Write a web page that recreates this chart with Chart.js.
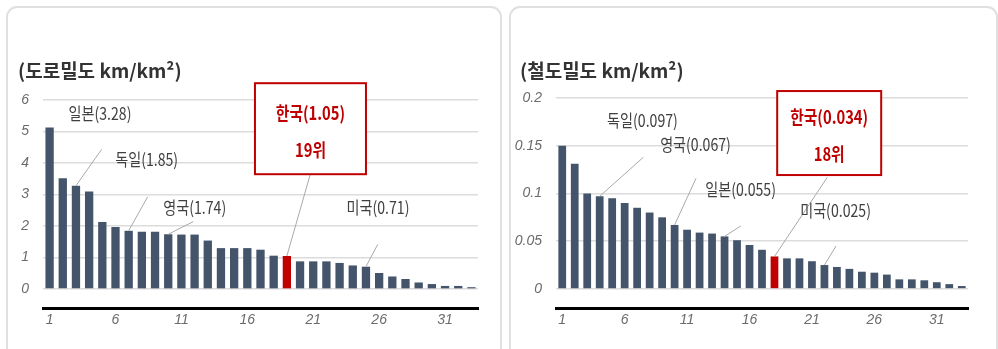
<!DOCTYPE html>
<html>
<head>
<meta charset="utf-8">
<script src="https://cdn.jsdelivr.net/npm/chart.js@4.4.1/dist/chart.umd.min.js"></script>
<style>
  html, body { margin: 0; padding: 0; background: #fff; }
  body { width: 998px; height: 349px; position: relative; overflow: hidden; }
  .panel { position: absolute; top: 6px; height: 380px; border: 2px solid #e0e0e0; border-radius: 11px; box-sizing: border-box; background: #fff; }
  #roadPanel { left: 6px; width: 496px; }
  #railPanel { left: 509px; width: 489px; }
  canvas { position: absolute; top: 0; }
  #roadChart { left: 0; }
  #railChart { left: 500px; }
</style>
</head>
<body>
<div class="panel" id="roadPanel"></div>
<div class="panel" id="railPanel"></div>
<canvas id="roadChart" width="500" height="349"></canvas>
<canvas id="railChart" width="498" height="349"></canvas>
<script>
// Rank positions 1..33 (OECD countries ordered by density)
const categories = ['1','2','3','4','5','6','7','8','9','10','11','12','13','14','15','16','17',
  '18','19','20','21','22','23','24','25','26','27','28','29','30','31','32','33'];

// Road density, km of road per km² of land
const roadDensity = [5.13, 3.52, 3.28, 3.10, 2.13, 1.97, 1.85, 1.82, 1.82, 1.74, 1.73, 1.73, 1.54,
  1.30, 1.30, 1.30, 1.25, 1.06, 1.05, 0.88, 0.88, 0.88, 0.83, 0.75, 0.71, 0.51, 0.40, 0.32,
  0.21, 0.16, 0.10, 0.10, 0.06];

// Rail density, km of track per km² of land
const railDensity = [0.150, 0.131, 0.100, 0.097, 0.095, 0.090, 0.085, 0.080, 0.075, 0.067, 0.062,
  0.059, 0.058, 0.055, 0.051, 0.046, 0.041, 0.034, 0.032, 0.032, 0.029, 0.025, 0.023, 0.021,
  0.018, 0.017, 0.015, 0.010, 0.010, 0.009, 0.007, 0.005, 0.003];

// Y-axis tick values
const roadTicks = [0, 1, 2, 3, 4, 5, 6];
const railTicks = [0, 0.05, 0.1, 0.15, 0.2];

// Labelled countries and their rank
const roadLabelCountries = ['일본', '독일', '영국', '한국', '미국'];
const roadLabelRanks = [3, 7, 10, 19, 25];
const railLabelCountries = ['독일', '영국', '일본', '한국', '미국'];
const railLabelRanks = [4, 10, 14, 18, 22];

const HOME = '한국';
const BAR_COLOR = '#44546A';
const HOME_COLOR = '#C00000';
const GRID_COLOR = '#dcdcdc';
const TICK_COLOR = '#6b6b6b';
const LABEL_COLOR = '#404040';
const LEADER_COLOR = '#a9a9a9';
const TICK_FONT = { family: "'Liberation Sans', Arial, sans-serif", size: 14, style: 'italic' };
const KR_FONT = "'Noto Sans CJK KR', 'Noto Sans', sans-serif";

// Offsets (px) of each callout relative to the top centre of its bar:
// label centre (lx, ly), start of the leader line (sx, sy); boxed callouts add w/h and line offsets
const roadCalloutLayout = [
  { lx: 24, ly: -72, sx: 25.7, sy: -36.4 },
  { lx: 18, ly: -71, sx: 19, sy: -34 },
  { lx: 26.5, ly: -27, sx: 25, sy: -12.6 },
  { lx: 23.6, ly: -127.3, sx: 23.2, sy: -81, w: 111, h: 91, lines: [-15.4, 21.3] },
  { lx: 12, ly: -59.4, sx: 11.8, sy: -22.4 }
];
const railCalloutLayout = [
  { lx: 42.8, ly: -75.6, sx: 43.6, sy: -39 },
  { lx: 20.9, ly: -80.9, sx: 21.4, sy: -46.6 },
  { lx: 16, ly: -47.1, sx: 16.2, sy: -10.4 },
  { lx: 54.7, ly: -123.4, sx: 52.8, sy: -79.1, w: 104, h: 84, lines: [-15.7, 21.3] },
  { lx: 11.1, ly: -54.3, sx: 11.6, sy: -19 }
];

// Draws condensed text centred at (x, y)
function condensedText(ctx, text, x, y, font, color, squeeze) {
  ctx.save();
  ctx.translate(x, y);
  ctx.scale(squeeze, 1);
  ctx.font = font;
  ctx.fillStyle = color;
  ctx.textAlign = 'center';
  ctx.textBaseline = 'middle';
  ctx.fillText(text, 0, 0);
  ctx.restore();
}

// Panel heading, drawn in the upper-left corner of the canvas
const panelTitle = {
  id: 'panelTitle',
  afterDraw(chart, args, opts) {
    const ctx = chart.ctx;
    ctx.save();
    ctx.font = `bold 19px ${KR_FONT}`;
    ctx.fillStyle = '#333333';
    ctx.textAlign = 'left';
    ctx.textBaseline = 'middle';
    ctx.fillText(opts.text, opts.x, opts.y);
    ctx.restore();
  }
};

// Country callouts with leader lines pointing at the bar tops
const callouts = {
  id: 'callouts',
  afterDatasetsDraw(chart, args, opts) {
    const ctx = chart.ctx;
    const meta = chart.getDatasetMeta(0);
    const values = chart.data.datasets[0].data;
    opts.countries.forEach((name, k) => {
      const idx = opts.ranks[k] - 1;
      const bar = meta.data[idx];
      const L = opts.layout[k];
      const bx = bar.x, by = bar.y;
      const valueText = values[idx].toFixed(opts.decimals);

      ctx.save();
      ctx.strokeStyle = LEADER_COLOR;
      ctx.lineWidth = 1;
      ctx.beginPath();
      ctx.moveTo(bx + L.sx, by + L.sy);
      ctx.lineTo(bx, by);
      ctx.stroke();
      ctx.restore();

      const cx = bx + L.lx, cy = by + L.ly;
      if (L.w) {
        ctx.save();
        ctx.fillStyle = '#ffffff';
        ctx.fillRect(cx - L.w / 2, cy - L.h / 2, L.w, L.h);
        ctx.strokeStyle = HOME_COLOR;
        ctx.lineWidth = 2;
        ctx.strokeRect(cx - L.w / 2, cy - L.h / 2, L.w, L.h);
        ctx.restore();
        const f = `bold 18px ${KR_FONT}`;
        condensedText(ctx, `${name}(${valueText})`, cx, cy + L.lines[0], f, HOME_COLOR, 0.82);
        condensedText(ctx, `${opts.ranks[k]}위`, cx, cy + L.lines[1], f, HOME_COLOR, 0.82);
      } else {
        condensedText(ctx, `${name}(${valueText})`, cx, cy, `17px ${KR_FONT}`, LABEL_COLOR, 0.83);
      }
    });
  }
};

function buildChart(id, cfg) {
  return new Chart(document.getElementById(id), {
    type: 'bar',
    data: {
      labels: categories,
      datasets: [{
        data: cfg.values,
        backgroundColor: cfg.values.map((v, i) => (i === cfg.homeIndex ? HOME_COLOR : BAR_COLOR)),
        barPercentage: cfg.barPct,
        categoryPercentage: 1
      }]
    },
    options: {
      responsive: false,
      animation: false,
      devicePixelRatio: 1,
      layout: { padding: cfg.padding },
      plugins: {
        legend: { display: false },
        tooltip: { enabled: false },
        panelTitle: cfg.title,
        callouts: cfg.callouts
      },
      scales: {
        x: {
          grid: { display: false, drawTicks: false },
          border: { display: true, color: '#000000', width: 3 },
          ticks: {
            autoSkip: false, maxRotation: 0, minRotation: 0, padding: 4,
            color: TICK_COLOR, font: TICK_FONT,
            callback: (v, i) => (i % 5 === 0 ? categories[i] : '')
          },
          afterFit: s => { s.height = 28; }
        },
        y: {
          min: cfg.min, max: cfg.max,
          grid: { color: GRID_COLOR, lineWidth: 1.5, drawTicks: false },
          border: { display: false },
          ticks: { padding: 14, color: TICK_COLOR, font: TICK_FONT, callback: v => String(v) },
          afterBuildTicks: s => { s.ticks = cfg.ticks.map(v => ({ value: v })); },
          afterFit: s => { s.width = cfg.yWidth; }
        }
      }
    },
    plugins: [panelTitle, callouts]
  });
}

buildChart('roadChart', {
  values: roadDensity,
  homeIndex: roadLabelRanks[roadLabelCountries.indexOf(HOME)] - 1,
  barPct: 0.63,
  min: -0.6, max: 6,
  ticks: roadTicks,
  yWidth: 33,
  padding: { left: 10, top: 100, right: 22, bottom: 13 },
  title: { text: '(도로밀도 km/km²)', x: 18, y: 71 },
  callouts: { countries: roadLabelCountries, ranks: roadLabelRanks, layout: roadCalloutLayout, decimals: 2 }
});

buildChart('railChart', {
  values: railDensity,
  homeIndex: railLabelRanks[railLabelCountries.indexOf(HOME)] - 1,
  barPct: 0.62,
  min: -0.02, max: 0.2,
  ticks: railTicks,
  yWidth: 46,
  padding: { left: 10, top: 98, right: 30, bottom: 13 },
  title: { text: '(철도밀도 km/km²)', x: 20, y: 71 },
  callouts: { countries: railLabelCountries, ranks: railLabelRanks, layout: railCalloutLayout, decimals: 3 }
});
</script>
</body>
</html>
